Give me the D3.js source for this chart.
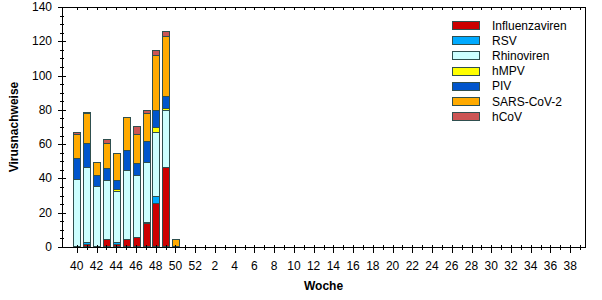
<!DOCTYPE html>
<html>
<head>
<meta charset="utf-8">
<script src="https://cdn.jsdelivr.net/npm/d3@7"></script>
<style>
  body { margin: 0; background: #fff; }
  svg { display: block; font-family: "Liberation Sans", Arial, sans-serif; }
</style>
</head>
<body>
<svg id="chart" width="602" height="300"></svg>
<script>
// season weeks 40..52, 1..39
const weeks = [40, 41, 42, 43, 44, 45, 46, 47, 48, 49, 50, 51, 52,
  1, 2, 3, 4, 5, 6, 7, 8, 9, 10, 11, 12, 13, 14, 15, 16, 17, 18, 19, 20,
  21, 22, 23, 24, 25, 26, 27, 28, 29, 30, 31, 32, 33, 34, 35, 36, 37, 38, 39];

// reported weeks so far (40..50)
const influenza = [0, 1, 0, 4, 1, 4, 5, 13, 25, 46, 0];
const rsv       = [0, 1, 0, 0, 1, 0, 0, 1, 4, 0, 0];
const rhino     = [39, 44, 35, 34, 30, 40, 36, 35, 37, 33, 0];
const hmpv      = [0, 0, 0, 0, 1, 0, 0, 0, 3, 1, 0];
const piv       = [12, 14, 6, 7, 5, 12, 7, 12, 10, 7, 0];
const sars      = [14, 17, 8, 15, 16, 19, 17, 16, 32, 35, 4];
const hcov      = [1, 1, 0, 2, 0, 0, 5, 2, 3, 3, 0];

const seriesNames = ["Influenzaviren", "RSV", "Rhinoviren", "hMPV", "PIV", "SARS-CoV-2", "hCoV"];
const seriesColors = ["#cc0000", "#00aaff", "#ccffff", "#ffff00", "#0055cc", "#ffaa00", "#cc5555"];
const yTicks = [0, 20, 40, 60, 80, 100, 120, 140];

const svg = d3.select("#chart");
const mLeft = 62, mRight = 585, mTop = 7, mBottom = 247;

// one empty slot before week 40
const x = d3.scaleBand()
  .domain(d3.range(-1, weeks.length))
  .range([mLeft, mRight])
  .paddingInner(0.32)
  .paddingOuter(0.16);
const cx = i => x(i) + x.bandwidth() / 2;

const y = d3.scaleLinear().domain([0, 140]).range([mBottom, mTop]);

// stack data
const allSeries = [influenza, rsv, rhino, hmpv, piv, sars, hcov];
const rows = influenza.map((_, i) => {
  const r = { idx: i };
  seriesNames.forEach((n, k) => { r[n] = allSeries[k][i]; });
  return r;
});
const stacked = d3.stack().keys(seriesNames)(rows);

const bars = svg.append("g").attr("shape-rendering", "crispEdges");
stacked.forEach((layer, k) => {
  bars.append("g")
    .selectAll("rect")
    .data(layer.filter(d => d[1] - d[0] > 0))
    .join("rect")
    .attr("x", d => Math.round(x(d.data.idx)) + 0.5)
    .attr("y", d => Math.floor(y(d[1])) - 0.5)
    .attr("width", Math.round(x.bandwidth()))
    .attr("height", d => Math.floor(y(d[0])) - Math.floor(y(d[1])))
    .attr("fill", seriesColors[k])
    .attr("stroke", "#2f4f4f")
    .attr("stroke-width", 1);
});

// frame and axes
const axes = svg.append("g").attr("stroke", "#000").attr("shape-rendering", "crispEdges");
axes.append("rect")
  .attr("x", mLeft + 0.5).attr("y", mTop + 0.5)
  .attr("width", mRight - mLeft).attr("height", mBottom - mTop)
  .attr("fill", "none");

// x ticks (bottom and top)
weeks.forEach((w, i) => {
  const px = Math.round(cx(i)) + 0.5;
  const major = w % 2 === 0;
  axes.append("line")
    .attr("x1", px).attr("x2", px)
    .attr("y1", mBottom - 2).attr("y2", mBottom + (major ? 6 : 3));
  axes.append("line")
    .attr("x1", px).attr("x2", px)
    .attr("y1", mTop).attr("y2", mTop + 3);
});

// y ticks
d3.range(0, 141, 5).forEach(v => {
  const py = Math.round(y(v)) + 0.5;
  const major = v % 20 === 0;
  axes.append("line")
    .attr("x1", mLeft - (major ? 4 : 2)).attr("x2", mLeft + (major ? 4 : 2))
    .attr("y1", py).attr("y2", py);
});

// labels
const labels = svg.append("g").attr("font-size", 12).attr("fill", "#000");
labels.selectAll("text.yt")
  .data(yTicks)
  .join("text")
  .attr("class", "yt")
  .attr("x", 52)
  .attr("y", d => y(d) + 4)
  .attr("text-anchor", "end")
  .text(d => d);

labels.selectAll("text.xt")
  .data(weeks.map((w, i) => ({ w, i })).filter(d => d.w % 2 === 0))
  .join("text")
  .attr("class", "xt")
  .attr("x", d => cx(d.i))
  .attr("y", 270)
  .attr("text-anchor", "middle")
  .text(d => d.w);

labels.append("text")
  .attr("x", (mLeft + mRight) / 2)
  .attr("y", 290)
  .attr("text-anchor", "middle")
  .attr("font-weight", "bold")
  .text("Woche");

labels.append("text")
  .attr("transform", "translate(18," + (mTop + mBottom) / 2 + ") rotate(-90)")
  .attr("text-anchor", "middle")
  .attr("font-weight", "bold")
  .text("Virusnachweise");

// legend
const legend = svg.append("g");
seriesNames.forEach((n, k) => {
  const ly = 25 + k * 15.2;
  legend.append("rect")
    .attr("x", 452.5).attr("y", Math.round(ly - 4) + 0.5)
    .attr("width", 27).attr("height", 8)
    .attr("fill", seriesColors[k])
    .attr("stroke", "#2f4f4f")
    .attr("shape-rendering", "crispEdges");
  legend.append("text")
    .attr("x", 492).attr("y", ly + 4.5)
    .attr("font-size", 12)
    .text(n);
});
</script>
</body>
</html>
